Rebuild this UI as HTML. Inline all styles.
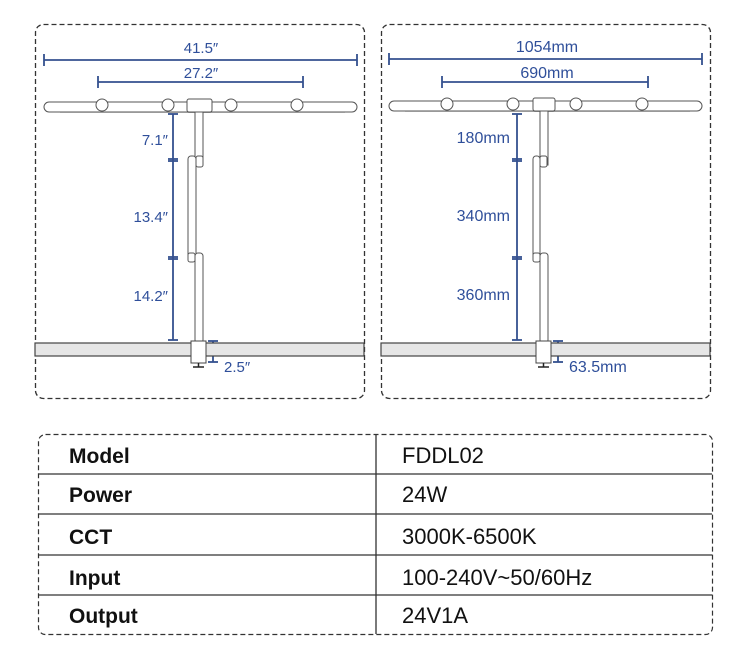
<!DOCTYPE html>
<html><head><meta charset="utf-8"><style>
html,body{margin:0;padding:0;background:#fff;}
svg{display:block;}
</style></head><body>
<svg width="750" height="670" xmlns="http://www.w3.org/2000/svg" font-family="Liberation Sans, Arial, sans-serif">
<!-- panels -->
<rect x="35.5" y="24.5" width="329" height="374" rx="8" fill="none" stroke="#333" stroke-width="1.3" stroke-dasharray="5,3"/>
<rect x="381.5" y="24.5" width="329" height="374" rx="8" fill="none" stroke="#333" stroke-width="1.3" stroke-dasharray="5,3"/>

<!-- LEFT -->
<g stroke="#34508f" stroke-width="1.8" fill="none">
<line x1="44" y1="60" x2="357" y2="60"/><line x1="44" y1="54" x2="44" y2="66"/><line x1="357" y1="54" x2="357" y2="66"/>
<line x1="98" y1="82" x2="303" y2="82"/><line x1="98" y1="76" x2="98" y2="88"/><line x1="303" y1="76" x2="303" y2="88"/>
<line x1="173" y1="114" x2="173" y2="340"/>
<line x1="168" y1="114" x2="178" y2="114"/>
<line x1="168" y1="159" x2="178" y2="159"/><line x1="168" y1="161" x2="178" y2="161"/>
<line x1="168" y1="257" x2="178" y2="257"/><line x1="168" y1="259" x2="178" y2="259"/>
<line x1="168" y1="340" x2="178" y2="340"/>
<line x1="213" y1="341" x2="213" y2="362"/><line x1="208" y1="341" x2="218" y2="341"/><line x1="208" y1="362" x2="218" y2="362"/>
</g>
<g fill="#2f4f9a" font-size="15">
<text x="201" y="53" text-anchor="middle">41.5″</text>
<text x="201" y="78" text-anchor="middle">27.2″</text>
<text x="168" y="145" text-anchor="end">7.1″</text>
<text x="168" y="222" text-anchor="end">13.4″</text>
<text x="168" y="301" text-anchor="end">14.2″</text>
<text x="224" y="372">2.5″</text>
</g>
<g fill="#fff" stroke="#555" stroke-width="1">
<rect x="44" y="102" width="313" height="10" rx="5"/>
<line x1="60" y1="112.5" x2="345" y2="112.5" stroke="#999"/>
<circle cx="102" cy="105" r="6"/><circle cx="168" cy="105" r="6"/><circle cx="231" cy="105" r="6"/><circle cx="297" cy="105" r="6"/>
<rect x="187" y="99" width="25" height="13" rx="2"/>
<rect x="195" y="112" width="8" height="53"/>
<rect x="188" y="156" width="8" height="103" rx="3"/>
<rect x="196" y="156" width="7" height="11" rx="2"/>
<rect x="195" y="253" width="8" height="90" rx="3"/>
<rect x="188" y="253" width="7" height="9" rx="2"/>
</g>
<rect x="35" y="343" width="329" height="13" fill="#e6e6e6" stroke="#444" stroke-width="1.2"/>
<rect x="191" y="341" width="15" height="22" fill="#fff" stroke="#444" stroke-width="1"/>
<line x1="198.5" y1="363" x2="198.5" y2="367" stroke="#222" stroke-width="1.5"/>
<line x1="193" y1="367" x2="204" y2="367" stroke="#222" stroke-width="1.5"/>

<!-- RIGHT -->
<g stroke="#34508f" stroke-width="1.8" fill="none">
<line x1="389" y1="59" x2="702" y2="59"/><line x1="389" y1="53" x2="389" y2="65"/><line x1="702" y1="53" x2="702" y2="65"/>
<line x1="442" y1="82" x2="648" y2="82"/><line x1="442" y1="76" x2="442" y2="88"/><line x1="648" y1="76" x2="648" y2="88"/>
<line x1="517" y1="114" x2="517" y2="340"/>
<line x1="512" y1="114" x2="522" y2="114"/>
<line x1="512" y1="159" x2="522" y2="159"/><line x1="512" y1="161" x2="522" y2="161"/>
<line x1="512" y1="257" x2="522" y2="257"/><line x1="512" y1="259" x2="522" y2="259"/>
<line x1="512" y1="340" x2="522" y2="340"/>
<line x1="558" y1="341" x2="558" y2="362"/><line x1="553" y1="341" x2="563" y2="341"/><line x1="553" y1="362" x2="563" y2="362"/>
</g>
<g fill="#2f4f9a" font-size="16">
<text x="547" y="52" text-anchor="middle">1054mm</text>
<text x="547" y="78" text-anchor="middle">690mm</text>
<text x="510" y="143" text-anchor="end">180mm</text>
<text x="510" y="221" text-anchor="end">340mm</text>
<text x="510" y="300" text-anchor="end">360mm</text>
<text x="569" y="372">63.5mm</text>
</g>
<g fill="#fff" stroke="#555" stroke-width="1">
<rect x="389" y="101" width="313" height="10" rx="5"/>
<line x1="405" y1="111.5" x2="690" y2="111.5" stroke="#999"/>
<circle cx="447" cy="104" r="6"/><circle cx="513" cy="104" r="6"/><circle cx="576" cy="104" r="6"/><circle cx="642" cy="104" r="6"/>
<rect x="533" y="98" width="22" height="13" rx="2"/>
<rect x="540" y="111" width="8" height="54"/>
<rect x="533" y="156" width="7" height="103" rx="3"/>
<rect x="540" y="156" width="7" height="11" rx="2"/>
<rect x="540" y="253" width="8" height="90" rx="3"/>
<rect x="533" y="253" width="7" height="9" rx="2"/>
</g>
<rect x="381" y="343" width="329" height="13" fill="#e6e6e6" stroke="#444" stroke-width="1.2"/>
<rect x="536" y="341" width="15" height="22" fill="#fff" stroke="#444" stroke-width="1"/>
<line x1="543.5" y1="363" x2="543.5" y2="367" stroke="#222" stroke-width="1.5"/>
<line x1="538" y1="367" x2="549" y2="367" stroke="#222" stroke-width="1.5"/>

<!-- TABLE -->
<rect x="38.5" y="434.5" width="674" height="200" rx="7" fill="none" stroke="#333" stroke-width="1.2" stroke-dasharray="5,3"/>
<g stroke="#333" stroke-width="1.3">
<line x1="39" y1="474" x2="712" y2="474"/>
<line x1="39" y1="514" x2="712" y2="514"/>
<line x1="39" y1="555" x2="712" y2="555"/>
<line x1="39" y1="595" x2="712" y2="595"/>
<line x1="376" y1="435" x2="376" y2="634"/>
</g>
<g fill="#111">
<g font-weight="bold" font-size="21">
<text x="69" y="463">Model</text>
<text x="69" y="502">Power</text>
<text x="69" y="544">CCT</text>
<text x="69" y="585">Input</text>
<text x="69" y="623">Output</text>
</g>
<g font-size="22">
<text x="402" y="463">FDDL02</text>
<text x="402" y="502">24W</text>
<text x="402" y="544">3000K-6500K</text>
<text x="402" y="585">100-240V~50/60Hz</text>
<text x="402" y="623">24V1A</text>
</g>
</g>
</svg>
</body></html>
